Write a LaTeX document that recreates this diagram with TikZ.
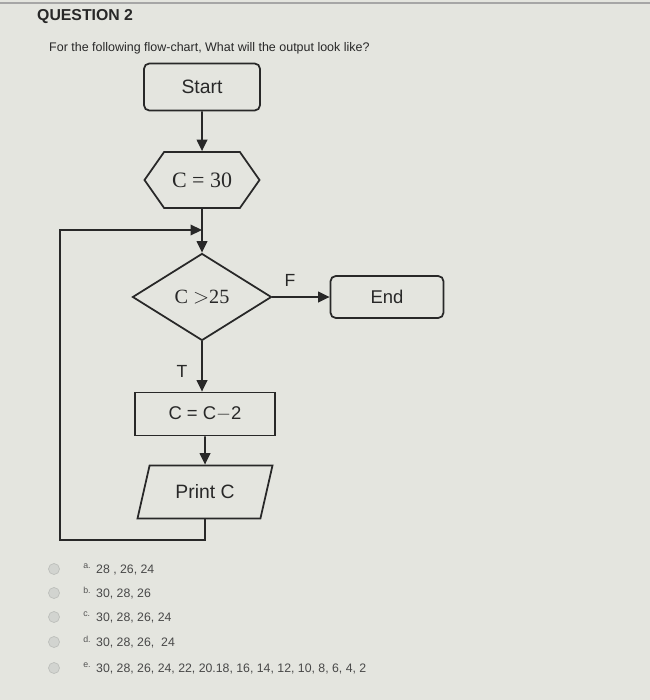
\documentclass[tikz,border=0pt]{standalone}
\usepackage{fontspec}
\setmainfont{Liberation Sans}
\newfontfamily\timesfont{Liberation Serif}
\usetikzlibrary{arrows.meta,shapes.geometric,shapes.symbols,positioning}
\definecolor{pagebg}{RGB}{228,229,223}
\definecolor{ink}{RGB}{40,40,40}
\definecolor{radiogray}{RGB}{210,212,208}

\begin{document}
\begin{tikzpicture}[
    term/.style={draw=ink, line width=1pt, rounded corners=3pt, font=\fontsize{11}{13}\selectfont, text=ink},
    proc/.style={draw=ink, line width=1pt, font=\fontsize{10.5}{12}\selectfont, text=ink},
    arr/.style={-{Triangle[length=6.5pt,width=6pt]}, line width=1pt, draw=ink},
    lbl/.style={font=\fontsize{10}{12}\selectfont, text=ink},
    radio/.style={circle, fill=radiogray, draw=radiogray!90!black, minimum size=0.22cm, inner sep=0pt},
    opt/.style={anchor=west, font=\fontsize{7}{8}\selectfont, text=ink!85},
    optlbl/.style={anchor=west, font=\fontsize{5}{6}\selectfont, text=ink!80, inner sep=0pt}
]
\fill[pagebg] (0,0) rectangle (13,-14);
\useasboundingbox (0,0) rectangle (13,-14);
\draw[gray!70, line width=0.6pt] (0,-0.06) -- (13,-0.06);

% heading
\node[anchor=west, font=\bfseries\fontsize{9}{11}\selectfont, text=ink] (qhead) at (0.62,-0.34) {QUESTION 2};
\node[anchor=west, font=\fontsize{7.1}{9}\selectfont, text=ink] (qtext) at (0.86,-0.96) {For the following flow-chart, What will the output look like?};

% flow chart
\node[term, minimum width=2.32cm, minimum height=0.94cm] (start) at (4.04,-1.74) {Start};
\node[draw=ink, line width=1pt, signal, signal to=west and east, signal pointer angle=110,
      minimum width=2.3cm, minimum height=1.12cm, text=ink, font=\timesfont\fontsize{12.5}{14}\selectfont] (init) at (4.04,-3.6) {C = 30};
\node[draw=ink, line width=1pt, diamond, aspect=1.6, inner sep=0pt, minimum width=2.78cm, minimum height=1.74cm,
      text=ink, font=\timesfont\fontsize{11.5}{13}\selectfont] (test) at (4.04,-5.94) {C $>$25\\[-2pt]};
\node[term, minimum width=2.26cm, minimum height=0.84cm, font=\fontsize{10.5}{12}\selectfont] (stop) at (7.74,-5.94) {End};
\node[proc, minimum width=2.8cm, minimum height=0.86cm] (dec) at (4.1,-8.28) {C = C$-$2};
\node[draw=ink, line width=1pt, trapezium, trapezium left angle=65, trapezium right angle=115, trapezium stretches body,
      minimum width=2.7cm, minimum height=1.06cm, font=\fontsize{11}{13}\selectfont, text=ink] (print) at (4.1,-9.84) {Print C};

\coordinate (join) at (4.04,-4.6);
\coordinate (loopbl) at (1.2,-10.8);

\draw[arr] (start) -- (init);
\draw[arr] (init) -- (test);
\draw[arr] (test.east) -- (stop.west);
\draw[arr] (test.south) -- (test.south |- dec.north);
\draw[arr] (dec) -- (print);
\draw[arr] (print.south) |- (loopbl) |- (join);

\node[lbl] (flbl) at (5.8,-5.6) {F};
\node[lbl] (tlbl) at (3.64,-7.42) {T};

% answers
\node[radio] (ra) at (1.08,-11.38) {};
\node[optlbl] (la) at (1.66,-11.33) {a.};
\node[opt] (oa) at (1.8,-11.4) {28 , 26, 24};
\node[radio] (rb) at (1.08,-11.86) {};
\node[optlbl] (lb) at (1.66,-11.81) {b.};
\node[opt] (ob) at (1.8,-11.88) {30, 28, 26};
\node[radio] (rc) at (1.08,-12.34) {};
\node[optlbl] (lc) at (1.66,-12.29) {c.};
\node[opt] (oc) at (1.8,-12.36) {30, 28, 26, 24};
\node[radio] (rd) at (1.08,-12.84) {};
\node[optlbl] (ld) at (1.66,-12.79) {d.};
\node[opt] (od) at (1.8,-12.86) {30, 28, 26,\ \ 24};
\node[radio] (re) at (1.08,-13.36) {};
\node[optlbl] (le) at (1.66,-13.31) {e.};
\node[opt] (oe) at (1.8,-13.38) {30, 28, 26, 24, 22, 20.18, 16, 14, 12, 10, 8, 6, 4, 2};
\end{tikzpicture}
\end{document}
